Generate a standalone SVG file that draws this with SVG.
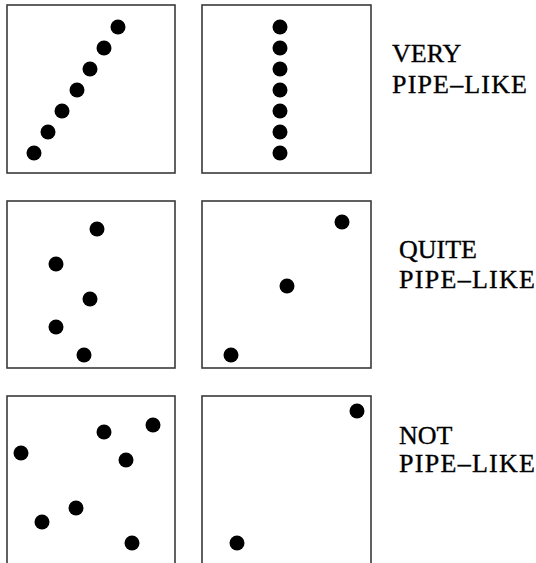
<svg xmlns="http://www.w3.org/2000/svg" width="536" height="563" viewBox="0 0 536 563">
<style>
.box{fill:#fff;stroke:#3a3a3a;stroke-width:1.6}
.dot{fill:#000}
.lbl{font-family:"Liberation Serif","Times New Roman",serif;font-size:26px;fill:#000;stroke:#000;stroke-width:0.35}
</style>
<defs><circle id="d" r="7.5" class="dot"/></defs>
<rect width="536" height="563" fill="#fff"/>
<g id="panel-1a">
<rect class="box" x="7" y="5" width="168" height="168"/>
<use href="#d" x="118" y="27"/><use href="#d" x="104" y="48"/><use href="#d" x="90" y="69"/><use href="#d" x="77" y="90"/><use href="#d" x="62" y="111"/><use href="#d" x="48" y="132"/><use href="#d" x="34" y="153"/>
</g>
<g id="panel-1b">
<rect class="box" x="202" y="5" width="169" height="168"/>
<use href="#d" x="280" y="27"/><use href="#d" x="280" y="48"/><use href="#d" x="280" y="69"/><use href="#d" x="280" y="90"/><use href="#d" x="280" y="111"/><use href="#d" x="280" y="132"/><use href="#d" x="280" y="153"/>
</g>
<g id="label-1">
<text class="lbl" x="392" y="62">VERY</text>
<text class="lbl" x="392" y="93" textLength="135" lengthAdjust="spacing">PIPE–LIKE</text>
</g>
<g id="panel-2a">
<rect class="box" x="7" y="201" width="168" height="167"/>
<use href="#d" x="97" y="229"/><use href="#d" x="56" y="264"/><use href="#d" x="90" y="299"/><use href="#d" x="56" y="327"/><use href="#d" x="84" y="355"/>
</g>
<g id="panel-2b">
<rect class="box" x="202" y="201" width="169" height="167"/>
<use href="#d" x="342" y="222"/><use href="#d" x="287" y="286"/><use href="#d" x="231" y="355"/>
</g>
<g id="label-2">
<text class="lbl" x="399" y="258">QUITE</text>
<text class="lbl" x="399" y="288" textLength="136" lengthAdjust="spacing">PIPE–LIKE</text>
</g>
<g id="panel-3a">
<rect class="box" x="7" y="396" width="168" height="180"/>
<use href="#d" x="153" y="425"/><use href="#d" x="104" y="432"/><use href="#d" x="21" y="453"/><use href="#d" x="126" y="460"/><use href="#d" x="76" y="508"/><use href="#d" x="42" y="522"/><use href="#d" x="132" y="543"/>
</g>
<g id="panel-3b">
<rect class="box" x="202" y="396" width="169" height="180"/>
<use href="#d" x="357" y="411"/><use href="#d" x="237" y="543"/>
</g>
<g id="label-3">
<text class="lbl" x="399" y="444">NOT</text>
<text class="lbl" x="399" y="472" textLength="136" lengthAdjust="spacing">PIPE–LIKE</text>
</g>
<g id="connectors"/>
</svg>
